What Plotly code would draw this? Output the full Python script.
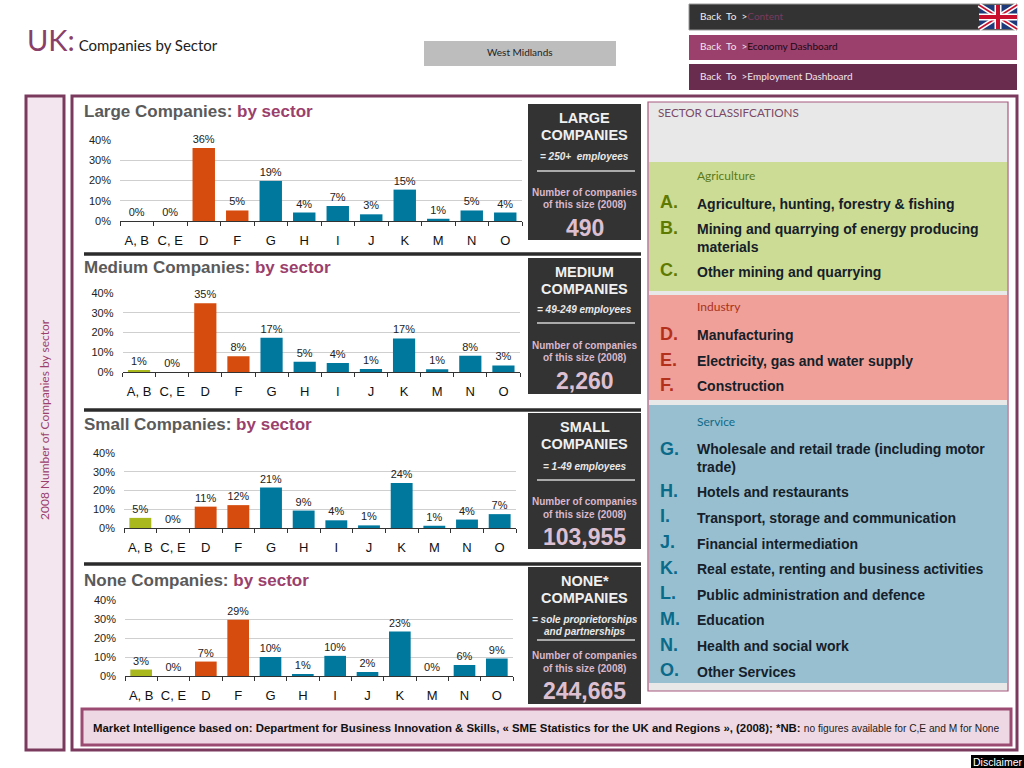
import plotly.graph_objects as go

W, H = 1024, 768
categories = ["A, B", "C, E", "D", "F", "G", "H", "I", "J", "K", "M", "N", "O"]
large_values = [0, 0, 36, 5.2, 19.8, 4.2, 7.4, 3.3, 15.5, 1.1, 5.2, 4.2]
large_labels = ["0%", "0%", "36%", "5%", "19%", "4%", "7%", "3%", "15%", "1%", "5%", "4%"]
medium_values = [0.6, 0, 34.8, 8, 17.4, 5.2, 4.5, 1.5, 17, 1.4, 8.2, 3.3]
medium_labels = ["1%", "0%", "35%", "8%", "17%", "5%", "4%", "1%", "17%", "1%", "8%", "3%"]
small_values = [5.4, 0, 11.4, 12.2, 21.6, 9.3, 4.1, 1.4, 24, 1.2, 4.5, 7.4]
small_labels = ["5%", "0%", "11%", "12%", "21%", "9%", "4%", "1%", "24%", "1%", "4%", "7%"]
none_values = [3.4, 0, 7.6, 29.6, 10, 0.7, 10.6, 2.1, 23.4, 0, 5.8, 9.2]
none_labels = ["3%", "0%", "7%", "29%", "10%", "1%", "10%", "2%", "23%", "0%", "6%", "9%"]
panel_counts = ["490", "2,260", "103,955", "244,665"]
panel_titles = ["Large", "Medium", "Small", "None"]

GREEN, ORANGE, TEAL = "#a9b81c", "#d64c0e", "#00789e"
bar_colors = [GREEN, GREEN, ORANGE, ORANGE] + [TEAL] * 8
PLUM, MAUVE, DARK = "#7a3a5e", "#9b3f6c", "#333333"
SANS = "Liberation Sans"
HUM = "Lato"


def px(x):
    return x / W


def py(y):
    return 1 - y / H


fig = go.Figure()
shapes, anns = [], []


def rect(x0, y0, x1, y1, fill, line=None, lw=0, layer="below"):
    shapes.append(dict(type="rect", xref="paper", yref="paper", x0=px(x0), x1=px(x1), y0=py(y0), y1=py(y1),
                       fillcolor=fill, line=dict(color=line or fill, width=lw), layer=layer))


def seg(x0, y0, x1, y1, color, lw, layer="below"):
    shapes.append(dict(type="line", xref="paper", yref="paper", x0=px(x0), x1=px(x1), y0=py(y0), y1=py(y1),
                       line=dict(color=color, width=lw), layer=layer))


def txt(x, y, s, size, color="#111111", anchor="left", font=SANS, angle=0):
    if anchor == "left":
        x -= 2
    anns.append(dict(xref="paper", yref="paper", x=px(x), y=py(y), text=s, showarrow=False, xanchor=anchor,
                     yanchor="middle", align=anchor, textangle=angle,
                     font=dict(size=size, color=color, family=font)))


# Outer frames
rect(26, 96, 64, 750, "#f4e6ee", PLUM, 3)
rect(72, 96, 1017, 750, "#ffffff", PLUM, 3)

# Top bars
rect(689, 4, 1017, 30, "#333333", "#999999", 1)
rect(689, 35, 1017, 60, MAUVE)
rect(689, 64, 1017, 90, "#692c4f")
rect(424, 41, 616, 66, "#bdbdbd")
txt(700, 16, "Back  To  &gt;<span style='color:#7a3a5e'>Content</span>", 10, "#eeeeee", font=HUM)
txt(700, 46, "Back  To  &gt;<span style='color:#1a0a14'>Economy Dashboard</span>", 10, "#f2e4ec", font=HUM)
txt(700, 76, "Back  To  &gt;Employment Dashboard", 10, "#f2e4ec", font=HUM)
txt(520, 52, "West Midlands", 10, "#222222", "center", HUM)
txt(27, 39, "<span style='font-size:29px;color:#8a3f68'>UK:</span> Companies by Sector", 15, "#222222", font=HUM)

# Flag
rect(979, 5, 1017, 29, "#1f3a7a", layer="above")
seg(979, 5, 1017, 29, "#ffffff", 5, "above")
seg(979, 29, 1017, 5, "#ffffff", 5, "above")
seg(979, 5, 1017, 29, "#c8102e", 1.6, "above")
seg(979, 29, 1017, 5, "#c8102e", 1.6, "above")
seg(998, 5, 998, 29, "#ffffff", 7, "above")
seg(979, 17, 1017, 17, "#ffffff", 7, "above")
seg(998, 5, 998, 29, "#c8102e", 4, "above")
seg(979, 17, 1017, 17, "#c8102e", 4, "above")

txt(44, 420, "2008 Number of Companies by sector", 12, MAUVE, "center", HUM, -90)

# Sector panel
rect(648, 102, 1008, 691, "#e8e8e8", "#a8587e", 1.2)
rect(649, 162, 1007, 291, "#cddc94")
rect(649, 295, 1007, 400, "#f0a098")
rect(649, 405, 1007, 683, "#97bfcf")
txt(658, 112, "SECTOR CLASSIFCATIONS", 11.7, "#7a4a66", font=HUM)
txt(697, 175, "Agriculture", 12, "#5a7a1a", font=HUM)
txt(697, 306, "Industry", 12, "#a8321c", font=HUM)
txt(697, 421, "Service", 12, "#0f6a8a", font=HUM)

sector_letters = ["A.", "B.", "C.", "D.", "E.", "F.", "G.", "H.", "I.", "J.", "K.", "L.", "M.", "N.", "O."]
sector_names = ["Agriculture, hunting, forestry &amp; fishing",
                "Mining and quarrying of energy producing<br>materials",
                "Other mining and quarrying", "Manufacturing", "Electricity, gas and water supply", "Construction",
                "Wholesale and retail trade (including motor<br>trade)", "Hotels and restaurants",
                "Transport, storage and communication", "Financial intermediation",
                "Real estate, renting and business activities", "Public administration and defence", "Education",
                "Health and social work", "Other Services"]
letter_y = [202, 228, 270, 334, 360, 385, 449, 491, 516, 542, 568, 593, 619, 645, 670]
name_y = [204, 238, 272, 335, 361, 386, 458, 492, 518, 544, 569, 595, 620, 646, 672]
for i, (l, n) in enumerate(zip(sector_letters, sector_names)):
    c = "#5f7a00" if i < 3 else ("#b5301a" if i < 6 else "#0a6a8a")
    txt(660, letter_y[i], f"<b>{l}</b>", 18, c)
    txt(697, name_y[i], f"<b>{n}</b>", 14, "#15202a")

# Separators
for y in (254, 410, 564):
    seg(84, y, 641, y, "#2b2b2b", 3.5)

# Footer
rect(82, 709, 1011, 745, "#eed8e4", "#9b4a72", 3)
txt(93, 728, "<b>Market Intelligence based on: Department for Business Innovation &amp; Skills, « SME Statistics for the UK and Regions », (2008); *NB:</b> <span style='font-size:10.2px;color:#222'>no figures available for C,E and M for None</span>", 11.4, "#111111")

rect(971, 755, 1024, 768, "#000000")
txt(997.5, 761.5, "Disclaimer", 10.5, "#ffffff", "center")

# Info boxes
boxes = [
    (104, 240, ["LARGE", "COMPANIES"], ["= 250+  employees"]),
    (258, 394, ["MEDIUM", "COMPANIES"], ["= 49-249 employees"]),
    (413, 549, ["SMALL", "COMPANIES"], ["= 1-49 employees"]),
    (567, 704, ["NONE*", "COMPANIES"], ["= sole proprietorships", "and partnerships"]),
]
sub_y = [156, 309, 466, 619]
rule_y = [171, 323, 480, 640]
note_y = [192, 345, 501, 655]
count_y = [228, 381, 537, 691]
for k, (y0, y1, t, sub) in enumerate(boxes):
    rect(528, y0, 641, y1, DARK)
    txt(584.5, y0 + 14, f"<b>{t[0]}</b>", 14.5, "#f0f0f0", "center")
    txt(584.5, y0 + 31, f"<b>{t[1]}</b>", 14.5, "#f0f0f0", "center")
    if len(sub) == 1:
        txt(584.5, sub_y[k], f"<b><i>{sub[0]}</i></b>", 10, "#e8e8e8", "center")
    else:
        txt(584.5, 619, f"<b><i>{sub[0]}</i></b>", 10, "#e8e8e8", "center")
        txt(584.5, 631, f"<b><i>{sub[1]}</i></b>", 10, "#e8e8e8", "center")
    seg(537, rule_y[k], 635, rule_y[k], "#aaaaaa", 2.2)
    txt(584.5, note_y[k], "<b>Number of companies</b>", 10, "#d9b8cc", "center")
    txt(584.5, note_y[k] + 13, "<b>of this size (2008)</b>", 10, "#d9b8cc", "center")
    txt(584.5, count_y[k], f"<b>{panel_counts[k]}</b>", 23, "#dcc0d2", "center")

# Charts: (x0, x1, y of 40%, y of 0%), heading position
geoms = [(120, 522, 140, 221), (122.5, 520, 293, 372), (124, 516, 453, 528), (125, 513, 600, 676)]
head_pos = [(84, 111), (84, 268), (84, 424), (84, 580)]
series = [(large_values, large_labels), (medium_values, medium_labels), (small_values, small_labels),
          (none_values, none_labels)]
layout_axes = {}
for i, ((vals, labs), g) in enumerate(zip(series, geoms)):
    n = "" if i == 0 else str(i + 1)
    fig.add_trace(go.Bar(x=categories, y=vals, text=labs, textposition="outside", cliponaxis=False, width=0.67,
                         marker=dict(color=bar_colors, line=dict(width=0)), textangle=0,
                         textfont=dict(size=11, color="#222222", family=SANS), showlegend=False,
                         xaxis="x" + n, yaxis="y" + n))
    layout_axes["xaxis" + n] = dict(domain=[px(g[0]), px(g[1])], anchor="y" + n, type="category",
                                    showline=True, linecolor="#333333", linewidth=1, ticks="outside", ticklen=4,
                                    tickcolor="#333333", tickson="boundaries", showgrid=False, tickangle=0,
                                    automargin=False,
                                    tickfont=dict(size=13, color="#111111", family=SANS), ticklabelstandoff=7)
    layout_axes["yaxis" + n] = dict(domain=[py(g[3]), py(g[2])], anchor="x" + n, range=[0, 40], dtick=10,
                                    ticksuffix="%", showgrid=True, gridcolor="#cfcfcf", gridwidth=1, zeroline=False,
                                    ticks="", showline=False, ticklabelstandoff=8, automargin=False,
                                    tickfont=dict(size=11, color="#222222", family=SANS))
    hx, hy = head_pos[i]
    txt(hx, hy, f"<b><span style='color:#5a5a5a'>{panel_titles[i]} Companies:</span> <span style='color:{MAUVE}'>by sector</span></b>", 17)

fig.update_layout(width=W, height=H, margin=dict(l=0, r=0, t=0, b=0, autoexpand=False), paper_bgcolor="#ffffff",
                  plot_bgcolor="rgba(0,0,0,0)", shapes=shapes, annotations=anns, bargap=0.33, **layout_axes)
fig.write_html("out.html", config={"displayModeBar": False}, post_script="document.body.style.margin='0';")
